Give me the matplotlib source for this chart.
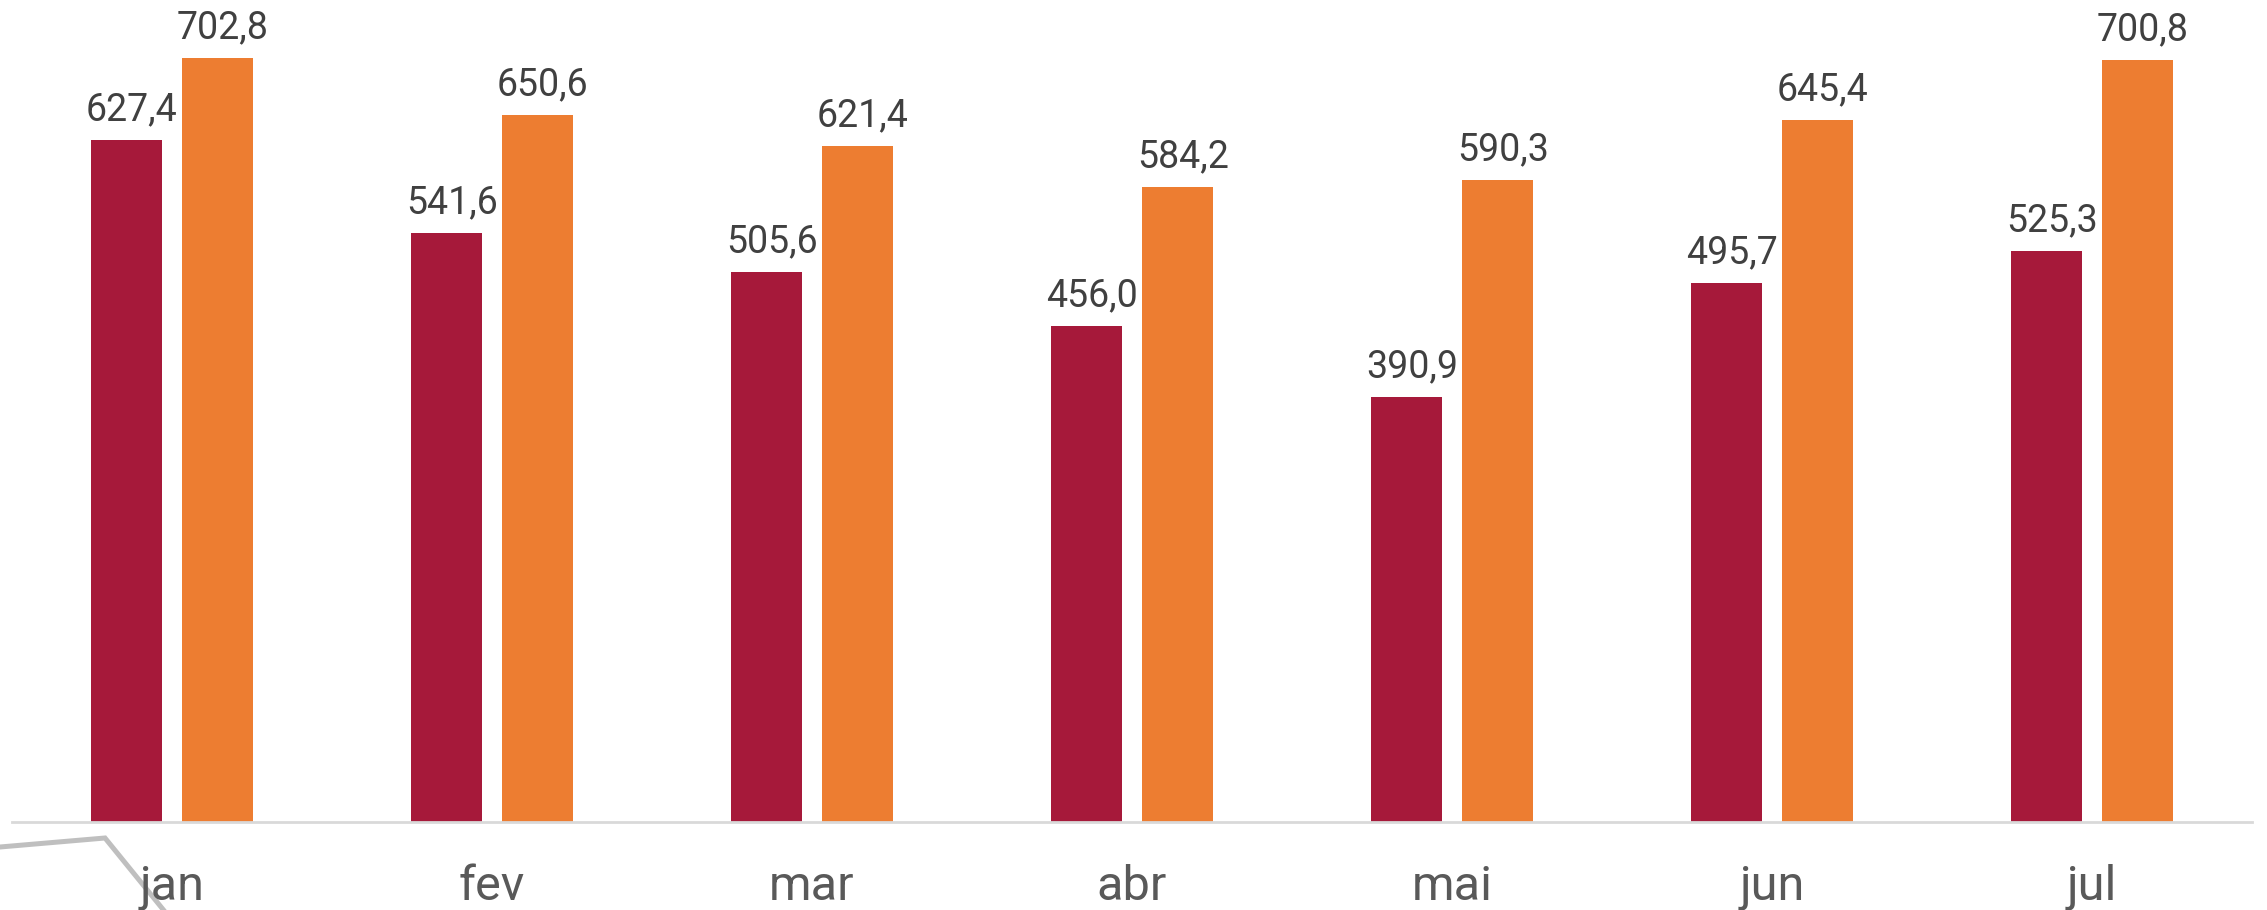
import matplotlib
matplotlib.use("Agg")
import matplotlib.pyplot as plt
from matplotlib.lines import Line2D
import numpy as np

months = ["jan", "fev", "mar", "abr", "mai", "jun", "jul"]
series_a = [627.4, 541.6, 505.6, 456.0, 390.9, 495.7, 525.3]
series_b = [702.8, 650.6, 621.4, 584.2, 590.3, 645.4, 700.8]

color_a = "#A6193A"
color_b = "#ED7D31"

plt.rcParams["font.family"] = ["Roboto", "DejaVu Sans"]

W, H = 2267, 910
fig = plt.figure(figsize=(W / 100, H / 100), dpi=100)
ax = fig.add_axes([11.6 / W, (H - 822) / H, (2252 - 11.6) / W, 822 / H])

x = np.arange(len(months))
bw = 0.222
off = 0.142
bars_a = ax.bar(x - off, series_a, width=bw, color=color_a, zorder=2)
bars_b = ax.bar(x + off, series_b, width=bw, color=color_b, zorder=2)

def fmt(v):
    return f"{v:.1f}".replace(".", ",")

for bars, vals in ((bars_a, series_a), (bars_b, series_b)):
    for b, v in zip(bars, vals):
        ax.annotate(fmt(v), (b.get_x() + b.get_width() / 2, v),
                    xytext=(4, 8.5), textcoords="offset points",
                    ha="center", va="bottom", fontsize=27, color="#404040")

ax.set_xlim(-0.5, len(months) - 0.5)
ax.set_ylim(0, 756)
ax.set_xticks(x)
ax.set_xticklabels(months, fontsize=35, color="#595959")
ax.tick_params(axis="x", length=0, pad=30)
ax.set_yticks([])
for s in ["top", "right", "left"]:
    ax.spines[s].set_visible(False)
ax.spines["bottom"].set_color("#D9D9D9")
ax.spines["bottom"].set_linewidth(2)
ax.spines["bottom"].set_zorder(3)

# decorative grey stroke at lower-left corner
px = [0, 105, 170]
py = [847, 838, 918]
fig.add_artist(Line2D([p / W for p in px], [1 - p / H for p in py],
                      transform=fig.transFigure, color="#BFBFBF",
                      linewidth=3.6, solid_joinstyle="miter", zorder=0))

fig.savefig("out.png", dpi=100)
